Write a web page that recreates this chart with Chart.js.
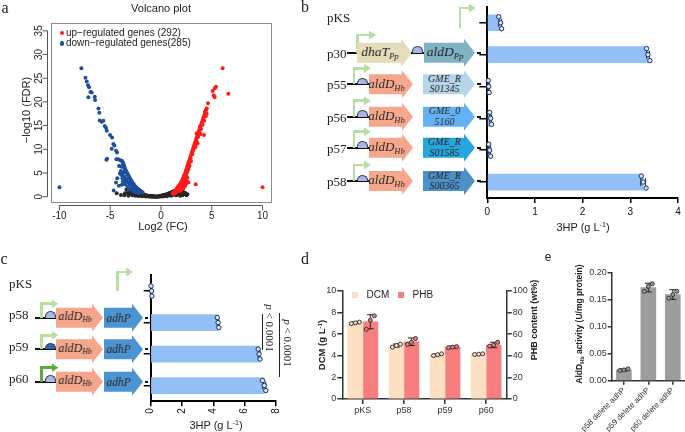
<!DOCTYPE html>
<html>
<head>
<meta charset="utf-8">
<title>3HP production figure</title>
<script src="https://cdn.jsdelivr.net/npm/chart.js@4.4.1/dist/chart.umd.min.js"></script>
<style>
    body { margin: 0; background: #fff; }
    #fig { position: relative; width: 685px; height: 432px; overflow: hidden; font-family: "Liberation Sans", Arial, sans-serif; color: #222; }
    #fig canvas { position: absolute; }
    .txt { position: absolute; white-space: nowrap; line-height: 1; }
    .serif { font-family: "Liberation Serif", "Times New Roman", serif; }
    .ctr { transform: translate(-50%, -50%); }
    .mid { transform: translateY(-50%); }
    .rot { transform: translate(-50%, -50%) rotate(-90deg); }
    .rotcw { transform: translate(-50%, -50%) rotate(90deg); }
    .gene { position: absolute; height: 28px; display: flex; align-items: center; justify-content: center; font-family: "Liberation Serif", "Times New Roman", serif; font-style: italic; color: #2a2a2a; text-align: center; line-height: 1.05; }
    sub { font-size: 0.65em; vertical-align: -0.3em; }
    sup { font-size: 0.65em; vertical-align: 0.55em; }
</style>
</head>
<body>
<div id="fig">
    <canvas id="chartA" width="285" height="240" style="left:0;top:0"></canvas>
    <canvas id="chartB" width="215" height="240" style="left:470px;top:0"></canvas>
    <canvas id="chartC" width="160" height="165" style="left:130px;top:265px"></canvas>
    <canvas id="chartD" width="240" height="160" style="left:300px;top:265px"></canvas>
    <canvas id="chartE" width="125" height="172" style="left:560px;top:260px"></canvas>

    <!-- panel a -->
    <div class="txt serif ctr" style="left:5px;top:8px;font-size:16px">a</div>
    <div class="txt ctr" style="left:161px;top:8px;font-size:11px">Volcano plot</div>
    <div class="txt" style="left:59.5px;top:30.5px;width:4.5px;height:4.5px;border-radius:50%;background:#ff1a1a"></div>
    <div class="txt mid" style="left:66px;top:32.7px;font-size:10px">up−regulated genes (292)</div>
    <div class="txt" style="left:59.5px;top:41px;width:4.5px;height:4.5px;border-radius:50%;background:#1d4f9f"></div>
    <div class="txt mid" style="left:66px;top:43.3px;font-size:10px">down−regulated genes(285)</div>
    <div class="txt rot" style="left:26px;top:110px;font-size:11px">−log10 (FDR)</div>
    <div class="txt ctr" style="left:163px;top:226px;font-size:11px">Log2 (FC)</div>

    <!-- panel b -->
    <div class="txt serif ctr" style="left:305px;top:7px;font-size:16px">b</div>
    <div class="txt ctr" style="left:583px;top:227px;font-size:11px">3HP (g L<sup>-1</sup>)</div>

    <!-- panel c -->
    <div class="txt serif ctr" style="left:4px;top:259px;font-size:16px">c</div>
    <div class="txt ctr" style="left:216px;top:425px;font-size:11px">3HP (g L<sup>-1</sup>)</div>
    <div class="txt" style="left:262px;top:314px;width:1px;height:36px;background:#222"></div>
    <div class="txt serif rotcw" style="left:269px;top:328px;font-size:11px"><i>p</i> &lt; 0.0001</div>
    <div class="txt" style="left:279px;top:313px;width:1px;height:64px;background:#222"></div>
    <div class="txt serif rotcw" style="left:286.5px;top:343px;font-size:11px"><i>p</i> &lt; 0.0001</div>

    <!-- panel d -->
    <div class="txt serif ctr" style="left:305px;top:259px;font-size:16px">d</div>
    <div class="txt rot" style="left:322px;top:345px;font-size:9.5px;font-weight:bold">DCM (g L<sup>-1</sup>)</div>
    <div class="txt rot" style="left:534px;top:320px;font-size:9px;font-weight:bold">PHB content (wt%)</div>
    <div class="txt" style="left:351.5px;top:292px;width:6px;height:6px;background:#fde0c2"></div>
    <div class="txt mid" style="left:366.5px;top:295px;font-size:10px">DCM</div>
    <div class="txt" style="left:398px;top:292px;width:6px;height:6px;background:#f77d7f"></div>
    <div class="txt mid" style="left:412.5px;top:295px;font-size:10px">PHB</div>

    <!-- panel e -->
    <div class="txt ctr" style="left:548px;top:257px;font-size:12px">e</div>
    <div class="txt rot" style="left:580px;top:324px;font-size:8.5px;font-weight:bold">AldD<sub>Hb</sub> activity (U/mg protein)</div>
</div>

<script>
// ---- data ----

// volcano plot: [log2 FC, -log10 FDR]
const upPoints = [
    [10.0, 2.0], [6.07, 27.1], [6.63, 21.7], [5.41, 23.2], [5.31, 22.9], [5.09, 22.3], [5.19, 21.4],
    [5.28, 21.0], [4.63, 19.7], [4.5, 18.6], [4.33, 17.9], [4.23, 13.0], [3.42, 2.6], [2.36, 3.9],
    [2.33, 2.5], [2.79, 6.5], [2.69, 7.0], [3.84, 14.8], [3.51, 13.4],
    [4.45, 18.4], [4.38, 18.0], [4.3, 17.4], [4.22, 16.9], [4.15, 16.5], [4.08, 16.0], [4.0, 15.6],
    [3.93, 15.1], [3.86, 14.7], [3.8, 14.3], [3.74, 13.9], [3.68, 13.5], [3.62, 13.1], [3.56, 12.8],
    [3.5, 12.4], [3.44, 12.0], [3.38, 11.6], [3.32, 11.2], [3.26, 10.8], [3.2, 10.4], [3.14, 10.0],
    [3.08, 9.6], [3.02, 9.2], [2.96, 8.8], [2.9, 8.4], [2.84, 8.0], [2.78, 7.6], [2.72, 7.2],
    [2.66, 6.8], [2.6, 6.4], [2.54, 6.0], [2.48, 5.6], [2.42, 5.2], [2.36, 4.8], [2.3, 4.5],
    [2.24, 4.2], [2.18, 3.9], [2.12, 3.6], [2.06, 3.3], [2.0, 3.0], [1.94, 2.8], [1.88, 2.6],
    [1.82, 2.4], [1.76, 2.2], [1.7, 2.0], [1.64, 1.8], [1.58, 1.6], [1.52, 1.45], [1.46, 1.3],
    [1.4, 1.15], [1.34, 1.0], [1.28, 0.9], [1.22, 0.8], [1.16, 0.7],
    [3.4, 10.5], [3.1, 9.0], [2.95, 7.5], [2.8, 6.6], [2.7, 5.8], [2.6, 5.2], [2.5, 4.6],
    [2.4, 4.0], [2.3, 3.5], [2.2, 3.0], [2.1, 2.6], [2.0, 2.2], [1.9, 1.9], [1.8, 1.6],
    [1.7, 1.4], [1.6, 1.2], [1.5, 1.0], [2.55, 3.2], [2.45, 2.7], [2.35, 2.2], [2.2, 1.8],
    [2.05, 1.5], [1.9, 1.2], [3.88, 13.2], [3.6, 11.2], [2.6, 4.0], [2.7, 3.0], [1.4, 0.8], [1.3, 0.6],
    [4.5, 17.5], [4.4, 17.0], [4.25, 16.0], [4.1, 15.2], [3.95, 14.3], [3.8, 13.5], [3.65, 12.6],
    [3.5, 11.7], [3.35, 10.8], [3.2, 9.9], [3.05, 9.0], [2.9, 8.1], [2.75, 7.2], [2.6, 6.3],
    [2.45, 5.4], [2.3, 4.6], [2.15, 3.8], [2.0, 3.1], [1.85, 2.5], [1.7, 2.2], [1.55, 1.8]
];
const downPoints = [
    [-10.0, 2.0], [-7.84, 27.1], [-7.44, 25.1], [-7.31, 24.3], [-7.18, 23.5], [-7.08, 23.1],
    [-6.95, 22.1], [-6.82, 22.0], [-7.15, 21.0], [-6.52, 21.1], [-6.49, 20.4], [-6.16, 18.6],
    [-6.07, 17.7], [-6.03, 16.1], [-5.84, 15.8], [-5.67, 16.0], [-5.54, 14.9], [-5.41, 14.5],
    [-5.34, 13.9], [-5.02, 13.0], [-4.82, 12.5], [-4.69, 11.1], [-4.59, 10.8], [-4.85, 10.1],
    [-4.43, 9.7], [-4.33, 9.3], [-5.31, 8.0], [-5.38, 7.8], [-4.39, 7.9], [-4.2, 7.9], [-4.0, 7.7],
    [-3.87, 7.6], [-4.13, 6.5], [-3.87, 6.3], [-3.67, 6.2], [-4.43, 3.0], [-4.66, 1.3],
    [-3.8, 7.4], [-3.75, 6.8], [-3.7, 7.0], [-3.62, 6.5], [-3.55, 6.0], [-3.5, 5.7], [-3.45, 5.4],
    [-3.4, 5.2], [-3.35, 5.0], [-3.3, 4.8], [-3.25, 4.6], [-3.2, 4.4], [-3.15, 4.2], [-3.1, 4.0],
    [-3.05, 3.8], [-3.0, 3.6], [-2.95, 3.4], [-2.9, 3.2], [-2.85, 3.05], [-2.8, 2.9], [-2.75, 2.75],
    [-2.7, 2.6], [-2.65, 2.45], [-2.6, 2.3], [-2.55, 2.2], [-2.5, 2.05], [-2.45, 1.95], [-2.4, 1.85],
    [-2.35, 1.75], [-2.3, 1.65], [-2.25, 1.55], [-2.2, 1.45], [-2.15, 1.35], [-2.1, 1.3], [-2.05, 1.2],
    [-2.0, 1.15], [-1.95, 1.05], [-1.9, 1.0], [-1.85, 0.95], [-1.8, 0.9],
    [-3.7, 5.0], [-3.6, 4.2], [-3.5, 3.6], [-3.8, 3.9], [-3.9, 4.6], [-3.4, 3.2], [-3.3, 3.8],
    [-3.2, 3.0], [-3.05, 2.6], [-2.9, 2.3], [-2.8, 2.0], [-2.7, 1.8], [-2.6, 1.6], [-2.5, 1.4],
    [-2.4, 1.3], [-2.3, 1.1], [-3.6, 5.5], [-3.95, 5.4], [-4.05, 4.9], [-3.75, 3.2], [-3.55, 2.6],
    [-4.15, 2.3], [-3.3, 2.2], [-3.0, 1.7], [-3.2, 1.5], [-2.75, 1.2], [-2.55, 0.95], [-2.2, 0.8],
    [-4.3, 3.9], [-3.85, 2.5]
];
const nsPoints = [
    [-2.6, 1.3], [-2.4, 1.05], [-2.2, 0.85], [-2.0, 0.68], [-1.8, 0.52], [-1.6, 0.38], [-1.4, 0.26],
    [-1.2, 0.16], [-1.0, 0.08], [-0.8, 0.03], [-0.6, 0.02], [-0.4, 0.05], [-0.2, 0.12], [0.0, 0.2],
    [0.2, 0.3], [0.4, 0.42], [0.6, 0.56], [0.8, 0.72], [1.0, 0.9], [1.2, 1.1],
    [-2.8, 0.3], [-2.5, 0.2], [-2.3, 0.5], [-2.1, 0.3], [-1.9, 0.1], [-1.7, 0.2], [-1.5, 0.05],
    [-1.3, 0.1], [-1.1, 0.03], [-0.9, 0.0], [-0.7, 0.01], [-0.5, 0.0], [-0.3, 0.03], [-0.1, 0.05],
    [0.1, 0.1], [0.3, 0.15], [0.5, 0.2], [0.7, 0.3], [0.9, 0.4], [1.1, 0.5], [1.3, 0.4], [1.5, 0.3],
    [1.7, 0.5], [1.9, 0.2], [2.1, 0.3], [-2.0, 0.4], [-1.6, 0.15], [-1.2, 0.05], [-0.4, 0.01],
    [0.0, 0.08], [0.4, 0.25], [0.8, 0.5], [1.2, 0.7], [1.4, 0.6], [1.6, 0.8], [-2.7, 0.6],
    [-2.2, 0.15], [-1.8, 0.3], [-1.4, 0.12], [0.6, 0.1], [1.0, 0.2], [1.8, 0.9], [2.0, 0.6],
    [2.2, 1.0], [2.3, 0.57], [1.55, 0.36], [-3.54, 0.7], [-3.94, 0.36], [-4.36, 0.7], [-3.2, 0.2],
    [-3.0, 0.9], [-2.9, 0.5], [2.5, 0.3], [2.4, 0.8],
    [-2.9, 1.5], [-2.7, 1.4], [-2.5, 1.1], [-2.3, 0.95], [-2.6, 0.9], [-2.4, 0.7], [-2.1, 0.55],
    [-1.9, 0.6], [-1.7, 0.42], [-1.5, 0.3], [-1.3, 0.22], [-1.1, 0.14], [0.1, 0.25], [0.3, 0.35],
    [0.5, 0.48], [0.7, 0.62], [0.9, 0.8], [1.1, 1.0], [1.3, 1.2], [1.45, 1.0], [1.6, 1.1],
    [1.75, 1.3], [1.9, 1.5], [2.05, 1.3], [2.15, 0.9], [-3.1, 1.2], [-3.3, 0.8], [-3.4, 1.5],
    [-2.8, 1.0], [-1.0, 0.2], [-0.8, 0.12], [-0.6, 0.08], [-0.2, 0.02], [0.2, 0.05], [2.6, 0.5],
    [-3.6, 0.3]
];

// panel b: 3HP titre (g/L)
const bLabels = ["pKS", "p30", "p55", "p56", "p57", "p58"];
const bMeans = [0.27, 3.37, 0.03, 0.07, 0.05, 3.27];
const bErrs = [0.03, 0.03, 0.01, 0.02, 0.02, 0.05];
const bReps = [[0.24, 0.28, 0.30], [3.34, 3.37, 3.41], [0.02, 0.03, 0.04], [0.05, 0.07, 0.09], [0.03, 0.05, 0.07], [3.23, 3.27, 3.33]];

// panel c: 3HP titre (g/L)
const cLabels = ["pKS", "p58", "p59", "p60"];
const cMeans = [0.05, 4.3, 6.92, 7.25];
const cErrs = [0.03, 0.05, 0.06, 0.1];
const cReps = [[0.02, 0.05, 0.08], [4.25, 4.3, 4.35], [6.86, 6.92, 6.98], [7.14, 7.25, 7.35]];

// panel d: DCM (g/L) and PHB content (wt%)
const dLabels = ["pKS", "p58", "p59", "p60"];
const dcmMeans = [7.05, 4.95, 4.1, 4.15];
const dcmErrs = [0.08, 0.14, 0.08, 0.04];
const dcmReps = [[6.98, 7.05, 7.12], [4.8, 4.95, 5.08], [4.02, 4.1, 4.18], [4.12, 4.15, 4.18]];
const phbMeans = [71.5, 53, 48, 50];
const phbErrs = [6.5, 3.5, 1, 2.5];
const phbReps = [[64.5, 73, 77], [50.5, 52.5, 56], [47.5, 48, 48.5], [49, 50, 52.5]];

// panel e: AldD activity (U/mg protein)
const eLabels = ["p58 delete adhP", "p59 delete adhP", "p60 delete adhP"];
const eMeans = [0.020, 0.173, 0.160];
const eErrs = [0.002, 0.008, 0.009];
const eReps = [[0.019, 0.020, 0.022], [0.166, 0.175, 0.180], [0.153, 0.160, 0.166]];

// ---- charts ----
Chart.defaults.font.family = '"Liberation Sans", Arial, sans-serif';
Chart.defaults.color = "#222";

const fixed = size => s => {
    if (s.isHorizontal()) s.height = size; else s.width = size;
};

// error bars + replicate dots on top of bars
function barExtras(series, horizontal) {
    return {
        id: "barExtras",
        afterDatasetsDraw(chart) {
            const ctx = chart.ctx;
            series.forEach(s => {
                const meta = chart.getDatasetMeta(s.dataset);
                const vScale = chart.scales[s.scale];
                meta.data.forEach((bar, i) => {
                    const c = horizontal ? bar.y : bar.x;
                    const lo = vScale.getPixelForValue(s.means[i] - s.errs[i]);
                    const hi = vScale.getPixelForValue(s.means[i] + s.errs[i]);
                    ctx.save();
                    ctx.strokeStyle = "#222";
                    ctx.lineWidth = 1;
                    ctx.beginPath();
                    if (horizontal) {
                        ctx.moveTo(lo, c); ctx.lineTo(hi, c);
                        ctx.moveTo(lo, c - 4); ctx.lineTo(lo, c + 4);
                        ctx.moveTo(hi, c - 4); ctx.lineTo(hi, c + 4);
                    } else {
                        ctx.moveTo(c, lo); ctx.lineTo(c, hi);
                        ctx.moveTo(c - 3.5, lo); ctx.lineTo(c + 3.5, lo);
                        ctx.moveTo(c - 3.5, hi); ctx.lineTo(c + 3.5, hi);
                    }
                    ctx.stroke();
                    const reps = s.reps[i];
                    reps.forEach((r, k) => {
                        const off = (k - (reps.length - 1) / 2) * s.spread;
                        const p = vScale.getPixelForValue(r);
                        ctx.beginPath();
                        if (horizontal) ctx.arc(p, c + off, 2.2, 0, Math.PI * 2);
                        else ctx.arc(c + off, p, 2, 0, Math.PI * 2);
                        ctx.fillStyle = s.dotFill;
                        ctx.fill();
                        ctx.strokeStyle = s.dotStroke;
                        ctx.stroke();
                    });
                    ctx.restore();
                });
            });
        }
    };
}

// R style frame for the volcano plot
const volcanoFrame = {
    id: "volcanoFrame",
    afterDraw(chart) {
        const { ctx, chartArea: a, scales: { x, y } } = chart;
        ctx.save();
        ctx.strokeStyle = "#8c8c8c";
        ctx.lineWidth = 1;
        ctx.strokeRect(a.left + 0.5, a.top + 0.5, a.right - a.left, a.bottom - a.top);

        ctx.strokeStyle = "#555";
        ctx.beginPath();
        const xs = x.ticks.map(t => x.getPixelForValue(t.value));
        const ay = a.bottom + 3.5;
        ctx.moveTo(xs[0], ay); ctx.lineTo(xs[xs.length - 1], ay);
        xs.forEach(px => { ctx.moveTo(px, ay); ctx.lineTo(px, ay + 5); });
        const ys = y.ticks.map(t => y.getPixelForValue(t.value));
        const ax = a.left - 3.5;
        ctx.moveTo(ax, ys[0]); ctx.lineTo(ax, ys[ys.length - 1]);
        ys.forEach(py => { ctx.moveTo(ax, py); ctx.lineTo(ax - 5, py); });
        ctx.stroke();

        ctx.fillStyle = "#222";
        ctx.font = '10px "Liberation Sans", Arial, sans-serif';
        ctx.textAlign = "center";
        ctx.textBaseline = "middle";
        y.ticks.forEach(t => {
            ctx.save();
            ctx.translate(a.left - 12, y.getPixelForValue(t.value));
            ctx.rotate(-Math.PI / 2);
            ctx.fillText(String(t.value), 0, 0);
            ctx.restore();
        });
        ctx.restore();
    }
};

const toXY = p => ({ x: p[0], y: p[1] });

new Chart(document.getElementById("chartA"), {
    type: "scatter",
    data: {
        datasets: [
            { data: upPoints.map(toXY), backgroundColor: "#ff1a1a", pointRadius: 2, borderWidth: 0 },
            { data: downPoints.map(toXY), backgroundColor: "#1d4f9f", pointRadius: 2, borderWidth: 0 },
            { data: nsPoints.map(toXY), backgroundColor: "#262626", pointRadius: 2, borderWidth: 0 }
        ]
    },
    options: {
        responsive: false, animation: false, events: [],
        layout: { padding: { top: 23, right: 14, left: 0, bottom: 0 } },
        plugins: { legend: { display: false }, tooltip: { enabled: false } },
        scales: {
            x: {
                min: -10.83, max: 10.83,
                ticks: { stepSize: 5, includeBounds: false, padding: 1, maxRotation: 0, font: { size: 10 } },
                grid: { drawOnChartArea: false, tickLength: 7, color: "transparent" },
                border: { display: false },
                afterFit: fixed(38)
            },
            y: {
                min: -1.12, max: 36.65,
                ticks: { stepSize: 5, includeBounds: false, display: false },
                grid: { display: false },
                border: { display: false },
                afterFit: fixed(51)
            }
        }
    },
    plugins: [volcanoFrame]
});

const axisBlack = { color: "#000", width: 2 };

new Chart(document.getElementById("chartB"), {
    type: "bar",
    data: { labels: bLabels, datasets: [{ data: bMeans, backgroundColor: "#92bff5", barThickness: 16 }] },
    options: {
        indexAxis: "y", responsive: false, animation: false, events: [],
        layout: { padding: { top: 6.8, right: 7, left: 0, bottom: 0 } },
        plugins: { legend: { display: false }, tooltip: { enabled: false } },
        scales: {
            x: {
                min: 0, max: 4,
                ticks: { stepSize: 1, padding: 3, color: "#111", font: { size: 10 } },
                grid: { drawOnChartArea: false, tickLength: 5, color: "#000", lineWidth: 1.5 },
                border: axisBlack,
                afterFit: fixed(42)
            },
            y: {
                ticks: { display: false },
                grid: { drawOnChartArea: false, offset: false, tickLength: 8, color: "#000", lineWidth: 1.5 },
                border: axisBlack,
                afterFit: fixed(17.3)
            }
        }
    },
    plugins: [barExtras([{ dataset: 0, scale: "x", means: bMeans, errs: bErrs, reps: bReps, spread: 6, dotFill: "#d6e8fc", dotStroke: "#1b2f5c" }], true)]
});

new Chart(document.getElementById("chartC"), {
    type: "bar",
    data: { labels: cLabels, datasets: [{ data: cMeans, backgroundColor: "#92bff5", barThickness: 16 }] },
    options: {
        indexAxis: "y", responsive: false, animation: false, events: [],
        layout: { padding: { top: 10.3, right: 13.3, left: 0, bottom: 0 } },
        plugins: { legend: { display: false }, tooltip: { enabled: false } },
        scales: {
            x: {
                min: 0, max: 8,
                ticks: { stepSize: 2, padding: 2, color: "#111", font: { size: 10 }, minRotation: 90, maxRotation: 90 },
                grid: { drawOnChartArea: false, tickLength: 5, color: "#000", lineWidth: 1.5 },
                border: axisBlack,
                afterFit: fixed(28.7)
            },
            y: {
                ticks: { display: false },
                grid: { drawOnChartArea: false, offset: false, tickLength: 7, color: "#000", lineWidth: 1.5 },
                border: axisBlack,
                afterFit: fixed(20.7)
            }
        }
    },
    plugins: [barExtras([{ dataset: 0, scale: "x", means: cMeans, errs: cErrs, reps: cReps, spread: 5, dotFill: "#d6e8fc", dotStroke: "#1b2f5c" }], true)]
});

const greyAxis = { color: "#333", width: 1.5 };
const greyGrid = { drawOnChartArea: false, offset: false, tickLength: 5, color: "#333", lineWidth: 1.5 };

new Chart(document.getElementById("chartD"), {
    type: "bar",
    data: {
        labels: dLabels,
        datasets: [
            { label: "DCM", data: dcmMeans, backgroundColor: "#fde0c2", barThickness: 15, categoryPercentage: 0.88, yAxisID: "y" },
            { label: "PHB", data: phbMeans, backgroundColor: "#f77d7f", barThickness: 15, categoryPercentage: 0.88, yAxisID: "y2" }
        ]
    },
    options: {
        responsive: false, animation: false, events: [],
        layout: { padding: { top: 26, right: 0, left: 0, bottom: 0 } },
        plugins: { legend: { display: false }, tooltip: { enabled: false } },
        scales: {
            x: {
                ticks: { padding: 1, color: "#333", font: { size: 9 }, maxRotation: 0 },
                grid: greyGrid, border: greyAxis,
                afterFit: fixed(26)
            },
            y: {
                position: "left", min: 0, max: 10,
                ticks: { stepSize: 2, padding: 1, color: "#333", font: { size: 9 } },
                grid: greyGrid, border: greyAxis,
                afterFit: fixed(42.3)
            },
            y2: {
                position: "right", min: 0, max: 100,
                ticks: { stepSize: 20, padding: 1, color: "#333", font: { size: 9 } },
                grid: greyGrid, border: greyAxis,
                afterFit: fixed(33.3)
            }
        }
    },
    plugins: [barExtras([
        { dataset: 0, scale: "y", means: dcmMeans, errs: dcmErrs, reps: dcmReps, spread: 4, dotFill: "#fde0c2", dotStroke: "#333" },
        { dataset: 1, scale: "y2", means: phbMeans, errs: phbErrs, reps: phbReps, spread: 4, dotFill: "#f77d7f", dotStroke: "#333" }
    ], false)]
});

new Chart(document.getElementById("chartE"), {
    type: "bar",
    data: { labels: eLabels, datasets: [{ data: eMeans, backgroundColor: "#9d9d9d", barThickness: 15 }] },
    options: {
        responsive: false, animation: false, events: [],
        layout: { padding: { top: 13, right: 0, left: 0, bottom: 0 } },
        plugins: { legend: { display: false }, tooltip: { enabled: false } },
        scales: {
            x: {
                ticks: { padding: 1, color: "#333", font: { size: 8 }, minRotation: 45, maxRotation: 45, autoSkip: false },
                grid: { drawOnChartArea: false, offset: false, tickLength: 4, color: "#333", lineWidth: 1.5 },
                border: greyAxis,
                afterFit: fixed(51.3)
            },
            y: {
                min: 0, max: 0.2,
                ticks: { stepSize: 0.05, padding: 1, color: "#333", font: { size: 9 }, callback: v => v.toFixed(2) },
                grid: { drawOnChartArea: false, tickLength: 4, color: "#333", lineWidth: 1.5 },
                border: greyAxis,
                afterFit: fixed(51.7)
            }
        }
    },
    plugins: [barExtras([{ dataset: 0, scale: "y", means: eMeans, errs: eErrs, reps: eReps, spread: 4, dotFill: "#9d9d9d", dotStroke: "#333" }], false)]
});

// ---- construct schematics (decoration, not data) ----
const fig = document.getElementById("fig");

function add(html, css, cls) {
    const d = document.createElement("div");
    d.className = cls || "txt";
    d.style.cssText = css;
    d.innerHTML = html;
    fig.appendChild(d);
    return d;
}
function hline(x1, x2, y) {
    add("", `left:${x1}px;top:${y - 1}px;width:${x2 - x1}px;height:2px;background:#111`);
}
function arrow(x1, x2, y, color, html, size) {
    const w = x2 - x1;
    add(`<span style="margin-right:9px">${html}</span>`,
        `left:${x1}px;top:${y - 14}px;width:${w}px;background:${color};font-size:${size}px;` +
        `clip-path:polygon(0 4px,${w - 11}px 4px,${w - 11}px 0,${w}px 14px,${w - 11}px 28px,${w - 11}px 24px,0 24px)`,
        "gene");
}
function promoter(x, yBase, yTop, x2, color) {
    add("", `left:${x - 1.25}px;top:${yTop - 1.25}px;width:2.5px;height:${yBase - yTop + 1.25}px;background:${color}`);
    add("", `left:${x - 1.25}px;top:${yTop - 1.25}px;width:${x2 - x - 5}px;height:2.5px;background:${color}`);
    add("", `left:${x2 - 7}px;top:${yTop - 4.5}px;width:7px;height:9px;background:${color};clip-path:polygon(0 0,100% 50%,0 100%)`);
}
function rbs(x, y, color) {
    add("", `left:${x - 5.5}px;top:${y - 6.5}px;width:9px;height:5.5px;border:1px solid #2b3a55;border-bottom:none;border-radius:5.5px 5.5px 0 0;background:${color}`);
}
function rowLabel(x, y, text) {
    add(text, `left:${x}px;top:${y}px;font-size:13px`, "txt serif mid");
}

const lightGreen = "#b9dea3";

// panel b constructs
rowLabel(327, 17, "pKS");
promoter(460, 27.7, 8, 476, lightGreen);

rowLabel(327, 52.7, "p30");
hline(347, 358, 52.7);
promoter(357.5, 52.7, 35, 376, lightGreen);
arrow(357, 412, 52.7, "#e5dcb9", "dhaT<sub>Pp</sub>", 13.5);
hline(411, 425, 52.7);
rbs(417, 52.7, "#a9b8df");
arrow(424, 475, 52.7, "#7fb2c3", "aldD<sub>Pp</sub>", 13.5);
hline(477, 480.5, 52.7);

const gmeRows = [
    { name: "p55", y: 84.3, color: "#b5d5ea", gene: "GME_R<br>S01345" },
    { name: "p56", y: 116.7, color: "#63b2f3", gene: "GME_0<br>5160" },
    { name: "p57", y: 147.7, color: "#27a6de", gene: "GME_R<br>S01585" },
    { name: "p58", y: 181, color: "#4b90c9", gene: "GME_R<br>S00365" }
];
gmeRows.forEach(r => {
    rowLabel(327, r.y, r.name);
    hline(347, 370, r.y);
    promoter(354, r.y, r.y - 16, 371, lightGreen);
    rbs(362, r.y, "#a9b8df");
    arrow(369, 413, r.y, "#f5a68b", "aldD<sub>Hb</sub>", 13);
    arrow(423, 475, r.y, r.color, r.gene, 10);
    hline(477, 480.5, r.y);
});

// panel c constructs
rowLabel(9, 283, "pKS");
promoter(117.3, 291, 272, 133, lightGreen);
const adhRows = [
    { name: "p58", y: 317.7, prom: lightGreen, rbsColor: "#a9b8df" },
    { name: "p59", y: 349.3, prom: lightGreen, rbsColor: "#2f67b1" },
    { name: "p60", y: 381.7, prom: "#5daa3e", rbsColor: "#a9b8df" }
];
adhRows.forEach(r => {
    rowLabel(9, r.y - 3.5, r.name);
    hline(35, 57, r.y);
    promoter(41.7, r.y, r.y - 14, 58.5, r.prom);
    rbs(50, r.y, r.rbsColor);
    arrow(56, 103, r.y, "#f5a68b", "aldD<sub>Hb</sub>", 12);
    arrow(103.5, 143, r.y, "#4b94d1", "adhP", 11.5);
    hline(145, 148, r.y);
});
</script>
</body>
</html>
